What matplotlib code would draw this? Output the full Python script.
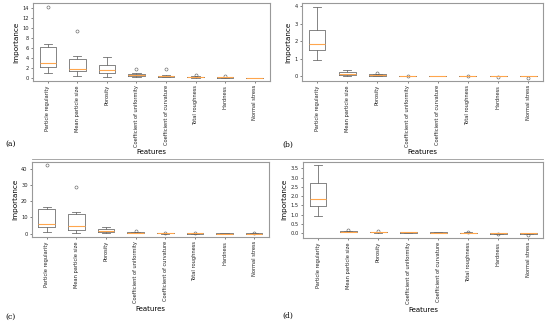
import matplotlib
matplotlib.use("Agg")
import matplotlib.pyplot as plt
from matplotlib.lines import Line2D

features = ["Particle regularity", "Mean particle size", "Porosity",
            "Coefficient of uniformity", "Coefficient of curvature",
            "Total roughness", "Hardness", "Normal stress"]

# box statistics: whisker low, q1, median, q3, whisker high, outliers
a_lo = [1.0, 0.4, 0.2, 0.15, 0.05, 0.0, 0.0, 0.0]
a_q1 = [2.1, 1.4, 1.0, 0.35, 0.15, 0.05, 0.0, 0.0]
a_med = [3.0, 1.8, 1.6, 0.5, 0.25, 0.1, 0.03, 0.0]
a_q3 = [6.2, 3.8, 2.6, 0.7, 0.35, 0.2, 0.06, 0.0]
a_hi = [6.7, 4.4, 4.1, 0.9, 0.45, 0.3, 0.1, 0.0]
a_fl = [[14.3], [9.4], [], [1.7], [1.7], [0.5], [0.3], []]

b_lo = [0.95, 0.0, 0.0, 0.0, 0.0, 0.0, 0.0, -0.02]
b_q1 = [1.52, 0.05, 0.03, 0.0, 0.0, 0.0, 0.0, -0.01]
b_med = [1.87, 0.15, 0.06, 0.0, 0.0, 0.0, 0.0, 0.0]
b_q3 = [2.62, 0.22, 0.1, 0.01, 0.01, 0.01, 0.01, 0.01]
b_hi = [3.98, 0.35, 0.12, 0.02, 0.02, 0.02, 0.02, 0.02]
b_fl = [[], [], [0.2], [0.0], [], [0.0], [-0.05], [-0.08]]

c_lo = [1.0, 0.5, 0.3, 0.1, 0.0, 0.0, 0.0, 0.0]
c_q1 = [4.0, 2.5, 1.2, 0.4, 0.1, 0.05, 0.0, 0.0]
c_med = [6.0, 4.8, 1.8, 0.6, 0.2, 0.1, 0.05, 0.05]
c_q3 = [15.0, 12.0, 2.8, 0.8, 0.3, 0.2, 0.1, 0.1]
c_hi = [16.5, 13.5, 4.0, 1.0, 0.4, 0.3, 0.1, 0.15]
c_fl = [[42.0], [28.5], [], [1.8], [0.6], [0.3], [], [0.3]]

d_lo = [0.95, 0.05, 0.03, 0.02, 0.01, 0.0, -0.05, -0.06]
d_q1 = [1.48, 0.06, 0.05, 0.03, 0.02, 0.01, -0.03, -0.04]
d_med = [1.83, 0.07, 0.06, 0.04, 0.03, 0.02, -0.02, -0.02]
d_q3 = [2.7, 0.09, 0.07, 0.05, 0.04, 0.03, -0.01, -0.01]
d_hi = [3.68, 0.1, 0.08, 0.06, 0.05, 0.04, 0.0, 0.0]
d_fl = [[], [0.15], [0.13], [], [], [0.06], [-0.07], [-0.08]]

panels = [
    ("(a)", [0.06, 0.749, 0.43, 0.241], (a_lo, a_q1, a_med, a_q3, a_hi, a_fl), [0, 2, 4, 6, 8, 10, 12, 14], (0.009, 0.548), -0.87),
    ("(b)", [0.549, 0.749, 0.439, 0.241], (b_lo, b_q1, b_med, b_q3, b_hi, b_fl), [0, 1, 2, 3, 4], (0.513, 0.545), -0.87),
    ("(c)", [0.058, 0.266, 0.431, 0.233], (c_lo, c_q1, c_med, c_q3, c_hi, c_fl), [0, 10, 20, 30, 40], (0.009, 0.012), -0.92),
    ("(d)", [0.551, 0.263, 0.437, 0.237], (d_lo, d_q1, d_med, d_q3, d_hi, d_fl), [0.0, 0.5, 1.0, 1.5, 2.0, 2.5, 3.0, 3.5], (0.513, 0.015), -0.9),
]


def make_stats(lo, q1, med, q3, hi, fl):
    stats = []
    for i in range(len(features)):
        stats.append({"whislo": lo[i], "q1": q1[i], "med": med[i], "q3": q3[i],
                      "whishi": hi[i], "fliers": fl[i], "label": features[i]})
    return stats


fig = plt.figure(figsize=(5.5, 3.23), dpi=100)
edge = "#707070"

for tag, rect, vals, yticks, tagpos, xlab_y in panels:
    ax = fig.add_axes(rect)
    ax.bxp(make_stats(*vals), widths=0.56,
           boxprops=dict(color=edge, linewidth=0.6),
           whiskerprops=dict(color=edge, linewidth=0.6),
           capprops=dict(color=edge, linewidth=0.6),
           medianprops=dict(color="#ffa64d", linewidth=0.8),
           flierprops=dict(marker="o", markersize=2.2, markerfacecolor="none",
                           markeredgecolor="#555555", markeredgewidth=0.4))
    ax.set_yticks(yticks)
    if tag == "(d)":
        ax.set_yticklabels([f"{t:.1f}" for t in yticks])
    ax.tick_params(labelsize=3.7, length=1.5, width=0.4, colors="#222222", pad=1.5)
    ax.tick_params(axis="x", labelrotation=90)
    for s in ax.spines.values():
        s.set_color("#999999")
        s.set_linewidth(0.8)
    ax.set_ylabel("Importance", fontsize=5.2, labelpad=2)
    ax.set_xlabel("Features", fontsize=5)
    ax.xaxis.set_label_coords(0.5, xlab_y)
    fig.text(tagpos[0], tagpos[1], tag, fontsize=5.5, family="DejaVu Serif")

fig.add_artist(Line2D([0.058, 0.988], [0.507, 0.507], color="#999999", linewidth=0.6))

fig.savefig("out.png", dpi=100)
